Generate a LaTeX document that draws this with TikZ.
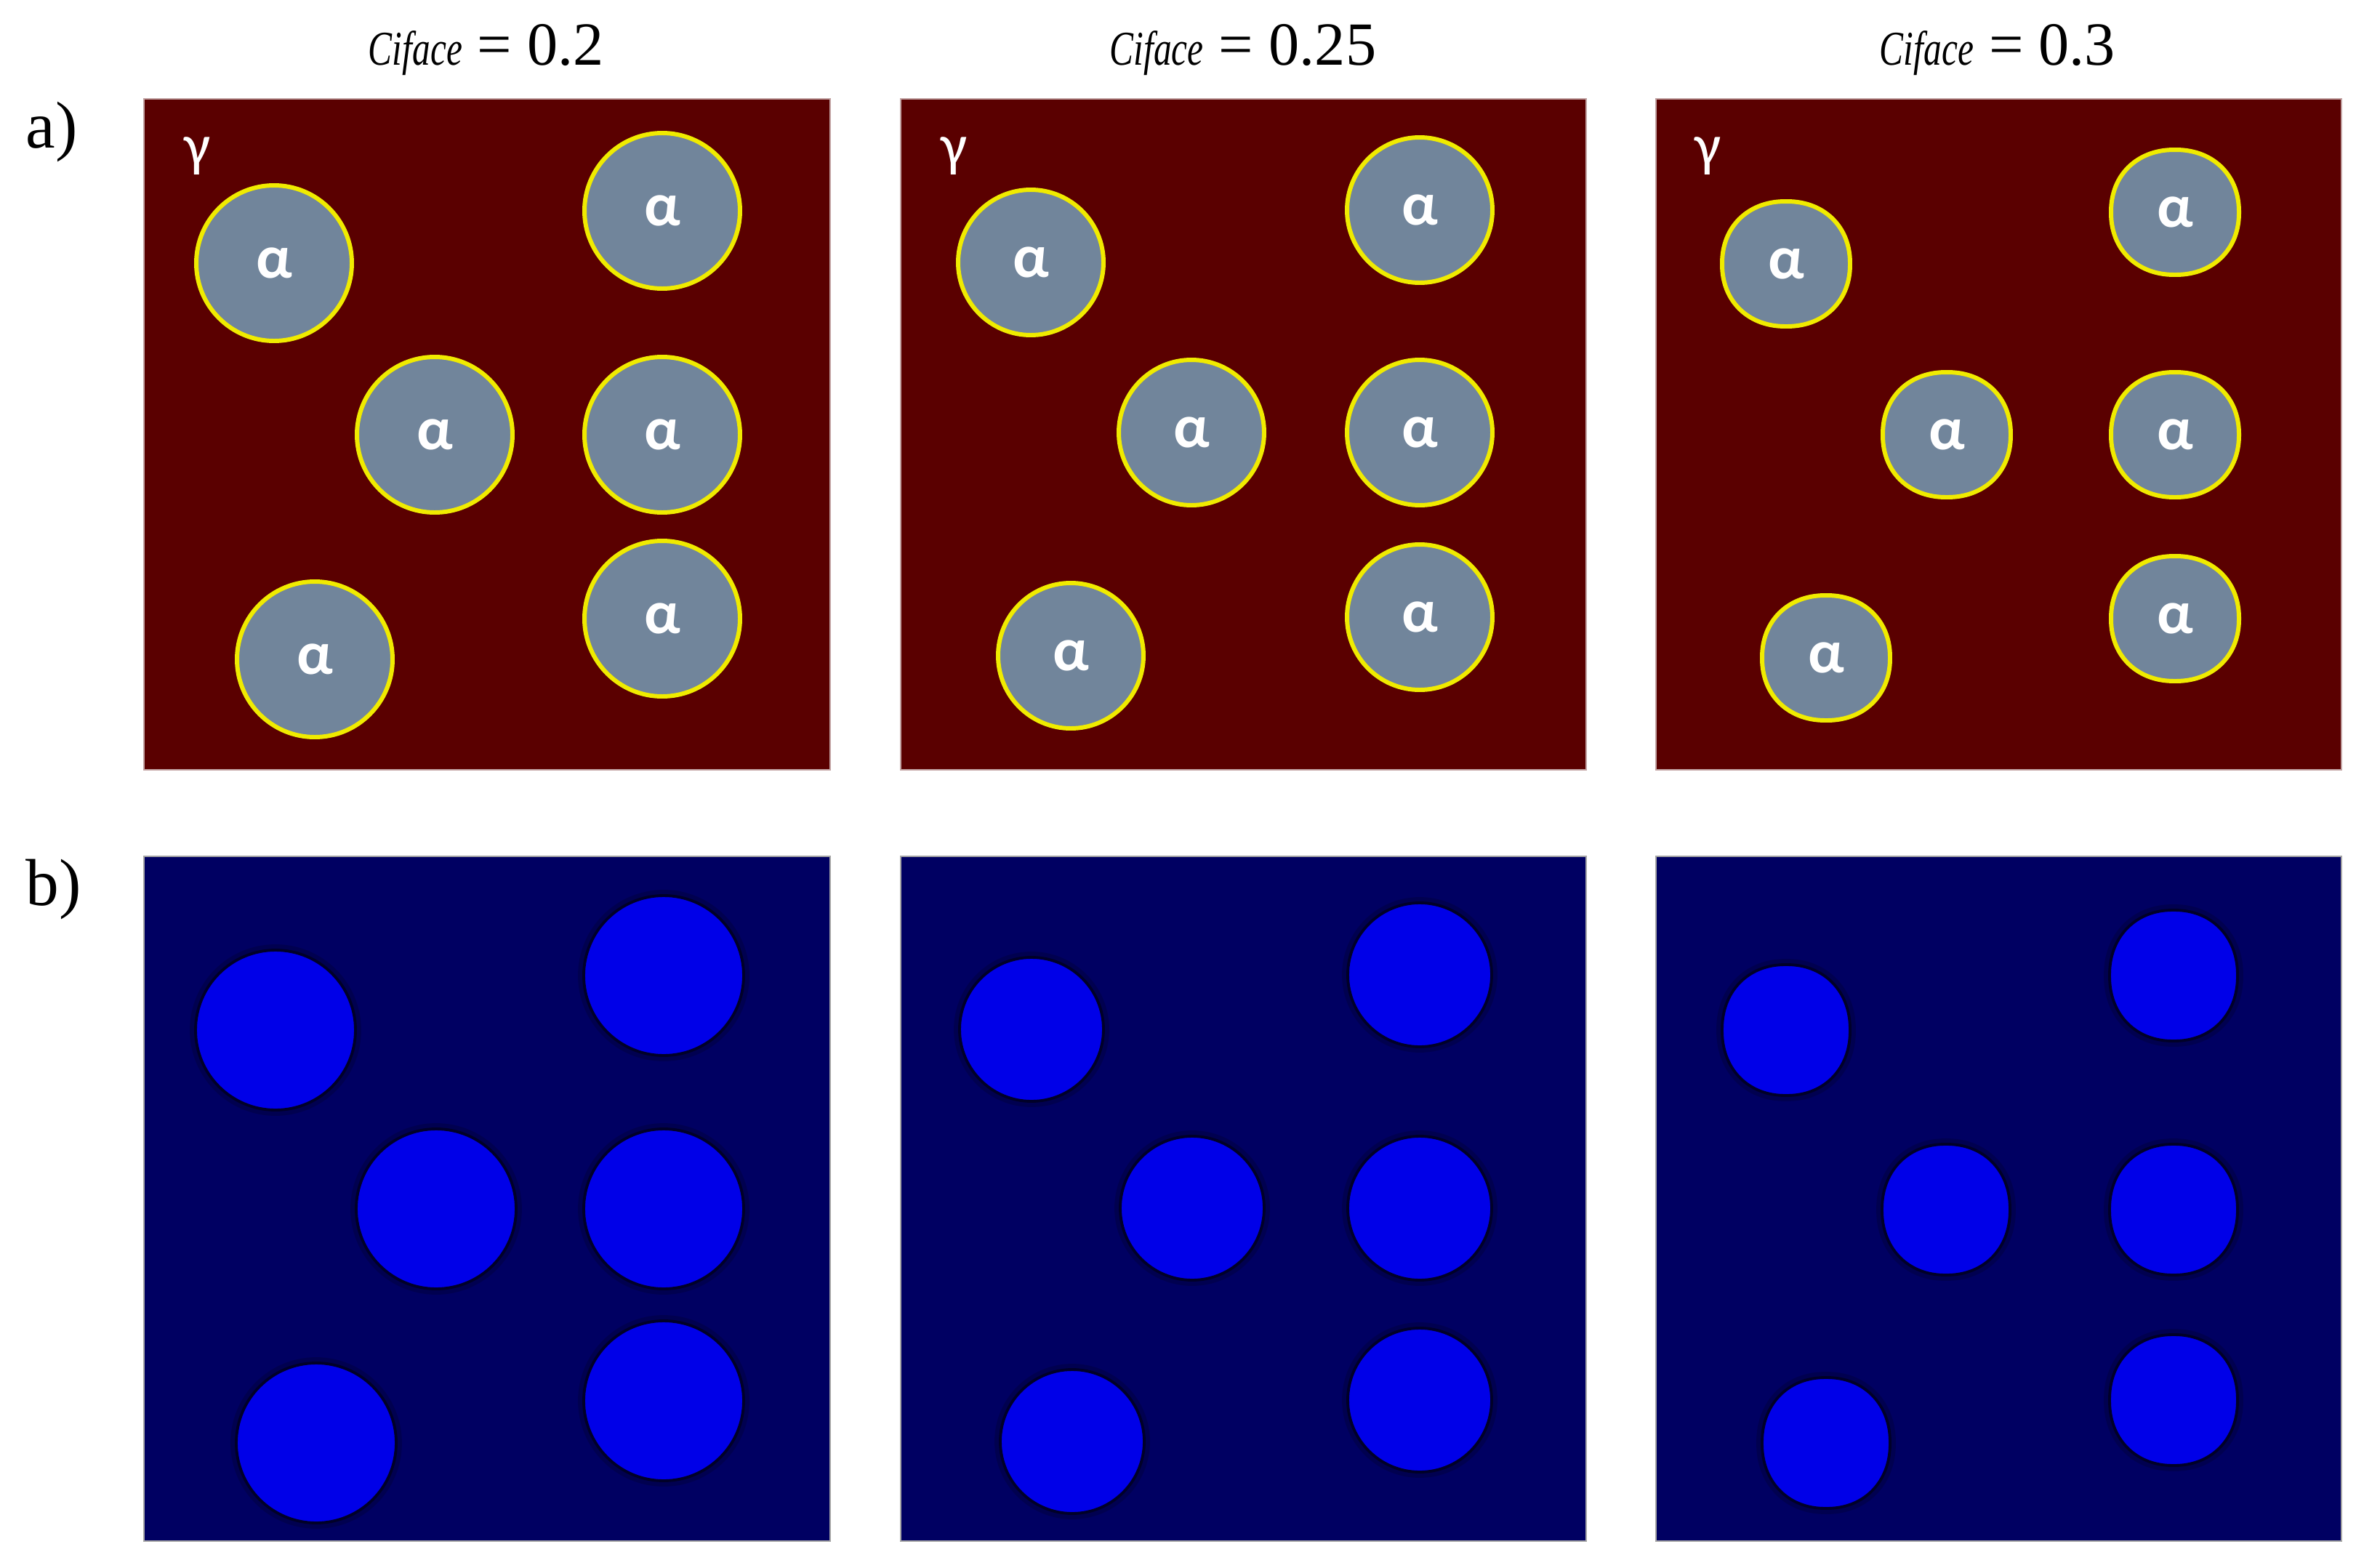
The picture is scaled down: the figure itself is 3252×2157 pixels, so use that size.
\documentclass[tikz,border=0pt]{standalone}
\usepackage{fontspec}
\usepackage{graphicx}
\setmainfont{Liberation Serif}
\newfontfamily\grkfont{Carlito}
\definecolor{matrixred}{RGB}{90,0,0}
\definecolor{grainslate}{RGB}{113,133,155}
\definecolor{ifaceyellow}{RGB}{240,235,0}
\definecolor{navybg}{RGB}{0,0,98}
\definecolor{grainblue}{RGB}{0,0,232}
\definecolor{halo}{RGB}{0,0,40}
\newcommand\hdrtext[1]{{\fontsize{19}{20}\selectfont\itshape\scalebox{0.74}[1]{Ciface}}{\fontsize{24}{28}\selectfont\ =\ #1}}
% superellipse grain: #1 style, #2 cx, #3 cy, #4 half width, #5 half height
\newcommand\sqgrain[5]{%
  \path[#1] plot[variable=\t, domain=1.25:358.75, samples=144]
    ({#2+#4*sign(cos(\t))*abs(cos(\t))^0.93},{#3+#5*sign(sin(\t))*abs(sin(\t))^0.93}) -- cycle;}
\tikzset{
  redpanel/.style={fill=matrixred, draw=red!20!gray!60, line width=0.5pt},
  bluepanel/.style={fill=navybg, draw=gray!70, line width=0.5pt},
  alphafont/.style={text=white, font=\grkfont\bfseries\fontsize{24}{24}\selectfont},
  agrain/.style={circle, inner sep=0pt, fill=grainslate, draw=ifaceyellow, line width=1.7pt, alphafont},
  agrainpath/.style={fill=grainslate, draw=ifaceyellow, line width=1.7pt, line join=round},
  alphalabel/.style={inner sep=0pt, alphafont},
  bgrain/.style={circle, inner sep=0pt, fill=grainblue, draw=halo, line width=1.1pt,
     preaction={draw=halo, line width=4.5pt, draw opacity=0.3}},
  bgrainpath/.style={fill=grainblue, draw=halo, line width=1.1pt, line join=round,
     preaction={draw=halo, line width=4.5pt, draw opacity=0.3}},
  hdr/.style={anchor=base, inner sep=0pt},
  rowlabel/.style={anchor=base west, inner sep=0pt, font=\fontsize{26}{28}\selectfont},
  gammalabel/.style={inner sep=0pt, text=white, font=\grkfont\fontsize{23}{24}\selectfont}
}
\begin{document}
\begin{tikzpicture}[x=0.1mm,y=-0.1mm]
\useasboundingbox[fill=white] (0,0) rectangle (3252,2157);

% headers
\node[hdr] (h1) at (669,90) {\hdrtext{0.2}};
\node[hdr] (h2) at (1710,90) {\hdrtext{0.25}};
\node[hdr] (h3) at (2748,90) {\hdrtext{0.3}};

% row labels
\node[rowlabel] (la) at (35,203) {a)};
\node[rowlabel] (lb) at (35,1245) {b)};

% row a panels
\node[redpanel, rectangle, anchor=north west, inner sep=0pt, minimum width=94.4mm, minimum height=92.3mm] (pa1) at (197,135) {};
\node[redpanel, rectangle, anchor=north west, inner sep=0pt, minimum width=94.3mm, minimum height=92.3mm] (pa2) at (1238,135) {};
\node[redpanel, rectangle, anchor=north west, inner sep=0pt, minimum width=94.3mm, minimum height=92.3mm] (pa3) at (2277,135) {};

% row b panels
\node[bluepanel, rectangle, anchor=north west, inner sep=0pt, minimum width=94.4mm, minimum height=94.2mm] (pb1) at (197,1177) {};
\node[bluepanel, rectangle, anchor=north west, inner sep=0pt, minimum width=94.3mm, minimum height=94.2mm] (pb2) at (1238,1177) {};
\node[bluepanel, rectangle, anchor=north west, inner sep=0pt, minimum width=94.3mm, minimum height=94.2mm] (pb3) at (2277,1177) {};

% gamma labels
\node[gammalabel] (g1) at (197+75,135+80) {γ};
\node[gammalabel] (g2) at (1238+75,135+80) {γ};
\node[gammalabel] (g3) at (2277+73,135+80) {γ};

% alpha grains, row a
\foreach \n/\x/\y in {1/180/227, 2/714/155, 3/401/463, 4/714/463, 5/236/772, 6/714/716}{
  \node[agrain, minimum size=21.4mm] (a1g\n) at ({197+\x},{135+\y}) {α};
}
\foreach \n/\x/\y in {1/180/226, 2/715/154, 3/401/460, 4/715/460, 5/235/767, 6/715/714}{
  \node[agrain, minimum size=20.0mm] (a2g\n) at ({1238+\x},{135+\y}) {α};
}
\foreach \n/\x/\y in {1/180/228, 2/715/157, 3/401/463, 4/715/463, 5/235/770, 6/715/716}{
  \sqgrain{agrainpath}{2277+\x}{135+\y}{88}{86}
  \node[alphalabel] (a3g\n) at ({2277+\x},{135+\y}) {α};
}

% grains, row b
\foreach \n/\x/\y in {1/182/240, 2/716/165, 3/403/486, 4/716/486, 5/238/808, 6/716/750}{
  \node[bgrain, minimum size=22.0mm] (b1g\n) at ({197+\x},{1177+\y}) {};
}
\foreach \n/\x/\y in {1/181/239, 2/715/164, 3/402/485, 4/715/485, 5/237/806, 6/715/749}{
  \node[bgrain, minimum size=19.8mm] (b2g\n) at ({1238+\x},{1177+\y}) {};
}
\foreach \n/\x/\y in {1/180/240, 2/713/165, 3/400/487, 4/713/487, 5/235/808, 6/713/749}{
  \sqgrain{bgrainpath}{2277+\x}{1177+\y}{88}{90}
}
\end{tikzpicture}
\end{document}
